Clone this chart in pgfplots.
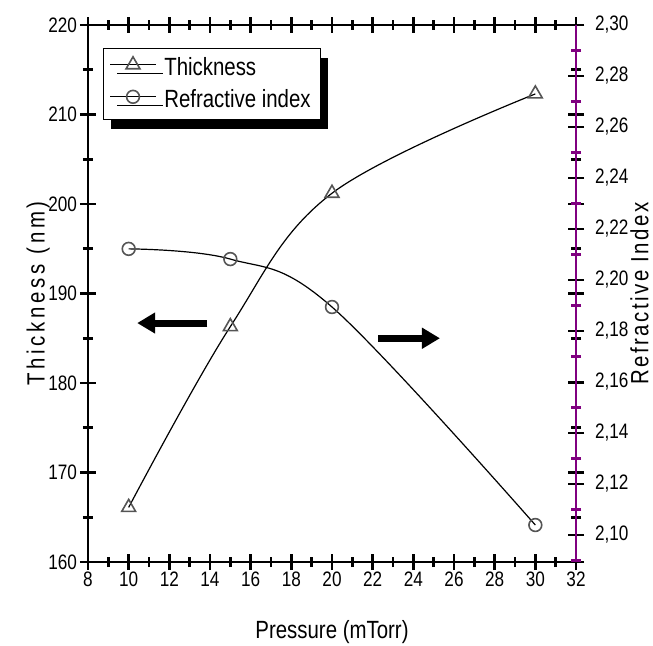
\documentclass[border=0pt]{standalone}
\usepackage{fontspec}
\setmainfont{Liberation Sans}[FakeStretch=0.82]
\usepackage{pgfplots}
\pgfplotsset{compat=1.18}
\usetikzlibrary{shadows,arrows.meta}
\definecolor{rpurple}{RGB}{128,0,128}
\definecolor{markgray}{RGB}{85,85,85}
\begin{document}
\begin{tikzpicture}
\pgfplotsset{
  every axis/.append style={
    scale only axis, width=244bp, height=268.5bp,
    xmin=8, xmax=32,
    tick align=center,
    major tick length=8bp, minor tick length=5bp,
    every tick/.style={line width=1.4bp, black},
    tick label style={font=\fontsize{10.5}{12}\selectfont},
    label style={font=\fontsize{12.5}{14}\selectfont},
    /pgf/number format/assume math mode=true,
  }
}
\begin{axis}[
  name=main,
  ymin=160, ymax=220,
  xtick={8,10,...,32}, minor xtick={9,11,...,31},
  ytick={160,170,...,220}, minor ytick={165,175,...,215},
  axis line style={line width=1.4bp},
  xticklabel style={yshift=2.5bp},
  yticklabel style={xshift=2bp},
  xlabel={Pressure (mTorr)},
  xlabel style={at={(axis description cs:0.5,-0.13)}, anchor=center},
  ylabel={\addfontfeature{LetterSpace=15}Thickness (nm)},
  ylabel style={at={(axis description cs:-0.102,0.5)}, anchor=center, rotate=0},
  clip=false,
  legend cell align=left,
  legend style={at={(0.031,0.957)}, anchor=north west, draw=black, line width=0.6bp, fill=white,
    general shadow={fill=black, shadow xshift=3.5bp, shadow yshift=-4.5bp},
    font=\fontsize{12.5}{15}\selectfont, row sep=1.5bp, inner xsep=3bp, inner ysep=2.5bp,
    /tikz/every even column/.append style={column sep=3bp}},
  legend image code/.code={\draw[mark repeat=2,mark phase=2,#1] plot coordinates {(0cm,0.06cm)(0.4cm,0.06cm)(0.8cm,0.06cm)};},
]
\addplot[smooth, tension=0.6, black, line width=0.6bp, mark=triangle, mark size=4bp,
  mark options={fill=white, draw=markgray, line width=0.8bp}]
  coordinates {(10,166.1)(15,186.3)(20,201.2)(30,212.3)};
\addlegendentry{\hspace{2bp}Thickness}
\addlegendimage{black, line width=0.6bp, mark=o, mark size=3.2bp, mark options={fill=white, draw=markgray, line width=0.8bp}}
\addlegendentry{\hspace{2bp}Refractive index}
\draw[line width=3.5bp, -{Triangle[length=9bp,width=10bp]}] (axis cs:13.87,186.7) -- (axis cs:10.42,186.7);
\draw[line width=3.5bp, -{Triangle[length=9bp,width=10bp]}] (axis cs:22.28,185.0) -- (axis cs:25.31,185.0);
\end{axis}
\begin{axis}[
  ymin=2.0894, ymax=2.30,
  axis y line*=right, axis x line=none,
  y axis line style={rpurple, line width=1.4bp},
  ytick={2.10,2.12,2.14,2.16,2.18,2.20,2.22,2.24,2.26,2.28,2.30},
  minor ytick={2.09,2.11,2.13,2.15,2.17,2.19,2.21,2.23,2.25,2.27,2.29},
  minor tick style={rpurple},
  yticklabel style={xshift=2bp, /pgf/number format/.cd, fixed, fixed zerofill, precision=2, use comma},
  ylabel={\addfontfeature{LetterSpace=10}Refractive Index},
  ylabel style={at={(axis description cs:1.13,0.5)}, anchor=center, rotate=0},
  clip=false,
]
\addplot[smooth, tension=0.6, black, line width=0.6bp, mark=o, mark size=3.2bp,
  mark options={fill=white, draw=markgray, line width=0.8bp}]
  coordinates {(10,2.2122)(15,2.2082)(20,2.1894)(30,2.1039)};
\end{axis}
\pgfresetboundingbox
\path (-44bp,-42bp) rectangle (282.5bp,281bp);
\end{tikzpicture}
\end{document}
